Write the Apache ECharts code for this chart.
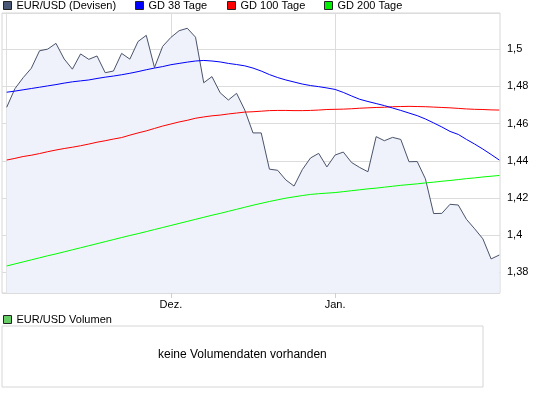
<!DOCTYPE html>
<html>
<head>
<meta charset="utf-8">
<script src="https://cdn.jsdelivr.net/npm/echarts@6/dist/echarts.min.js"></script>
<style>
html,body{margin:0;padding:0;background:#fff;}
#c{width:545px;height:395px;}
</style>
</head>
<body>
<div id="c"></div>
<script>
// EUR/USD daily quotes (approx. Nov 2009 - Jan 2010), evenly spaced samples
const price = [
  1.4688, 1.4788, 1.4847, 1.4898, 1.4992, 1.5001, 1.5032, 1.4948, 1.4893, 1.4975,
  1.4946, 1.4964, 1.4874, 1.4883, 1.4978, 1.4947, 1.5042, 1.5075, 1.4902, 1.5016,
  1.5064, 1.5100, 1.5113, 1.5065, 1.4820, 1.4853, 1.4766, 1.4727, 1.4763, 1.4673,
  1.4550, 1.4550, 1.4355, 1.4349, 1.4297, 1.4264, 1.4352, 1.4415, 1.4440, 1.4367,
  1.4431, 1.4447, 1.4391, 1.4364, 1.4341, 1.4530, 1.4508, 1.4526, 1.4515, 1.4395,
  1.4396, 1.4303, 1.4116, 1.4117, 1.4166, 1.4162, 1.4085, 1.4034, 1.3980, 1.3872,
  1.3893
];
const gd38 = [
  1.4769, 1.4775, 1.4782, 1.4789, 1.4796, 1.4803, 1.4810, 1.4818, 1.4825, 1.4830,
  1.4835, 1.4843, 1.4850, 1.4856, 1.4863, 1.4871, 1.4880, 1.4890, 1.4899, 1.4907,
  1.4917, 1.4924, 1.4931, 1.4937, 1.4940, 1.4937, 1.4932, 1.4924, 1.4918, 1.4911,
  1.4899, 1.4883, 1.4864, 1.4848, 1.4835, 1.4824, 1.4813, 1.4805, 1.4799, 1.4792,
  1.4784, 1.4768, 1.4749, 1.4731, 1.4719, 1.4708, 1.4697, 1.4684, 1.4671, 1.4657,
  1.4643, 1.4625, 1.4604, 1.4582, 1.4558, 1.4542, 1.4515, 1.4490, 1.4463, 1.4434,
  1.4404
];
const gd100 = [
  1.4404, 1.4413, 1.4423, 1.4430, 1.4439, 1.4449, 1.4458, 1.4466, 1.4473, 1.4481,
  1.4490, 1.4500, 1.4508, 1.4517, 1.4525, 1.4538, 1.4550, 1.4561, 1.4574, 1.4587,
  1.4598, 1.4609, 1.4618, 1.4629, 1.4636, 1.4642, 1.4646, 1.4652, 1.4657, 1.4662,
  1.4664, 1.4667, 1.4670, 1.4671, 1.4671, 1.4670, 1.4670, 1.4671, 1.4673, 1.4676,
  1.4677, 1.4678, 1.4680, 1.4683, 1.4685, 1.4687, 1.4688, 1.4691, 1.4692, 1.4693,
  1.4692, 1.4691, 1.4689, 1.4687, 1.4685, 1.4682, 1.4679, 1.4677, 1.4676, 1.4674,
  1.4673
];
const gd200 = [
  1.3834, 1.3845, 1.3856, 1.3867, 1.3878, 1.3889, 1.3899, 1.3910, 1.3921, 1.3932,
  1.3943, 1.3954, 1.3965, 1.3976, 1.3987, 1.3998, 1.4008, 1.4019, 1.4030, 1.4041,
  1.4052, 1.4063, 1.4074, 1.4085, 1.4096, 1.4107, 1.4117, 1.4128, 1.4139, 1.4150,
  1.4161, 1.4171, 1.4181, 1.4190, 1.4199, 1.4206, 1.4213, 1.4219, 1.4223, 1.4226,
  1.4229, 1.4234, 1.4239, 1.4244, 1.4249, 1.4253, 1.4258, 1.4263, 1.4268, 1.4272,
  1.4276, 1.4281, 1.4285, 1.4290, 1.4294, 1.4299, 1.4304, 1.4308, 1.4313, 1.4317,
  1.4321
];
// month ticks (sample index where the month starts) and their labels
const monthTicks = [20, 40];
const monthLabels = ['Dez.', 'Jan.'];
const seriesNames = ['EUR/USD (Devisen)', 'GD 38 Tage', 'GD 100 Tage', 'GD 200 Tage'];
const volumeName = 'EUR/USD Volumen';
const noVolumeText = 'keine Volumendaten vorhanden';

const FONT = '"Liberation Sans", Arial, sans-serif';
const toPairs = arr => arr.map((v, i) => [i, v]);
const fmtY = v => Number(v.toFixed(2)).toString().replace('.', ',');

const legendPos = [3, 135, 227, 324];
const legendColors = ['#4a5878', '#0000ff', '#ff0000', '#00ee00'];

const legends = seriesNames.map((n, k) => ({
  data: [n],
  left: legendPos[k],
  top: 0,
  padding: 0,
  itemWidth: 8,
  itemHeight: 8,
  itemGap: 0,
  icon: 'rect',
  selectedMode: false,
  itemStyle: { borderColor: '#222', borderWidth: 1 },
  textStyle: { fontFamily: FONT, fontSize: 11, color: '#000', padding: [1, 0, 0, 0] }
}));
legends.push({
  data: [volumeName],
  left: 3,
  top: 314,
  padding: 0,
  itemWidth: 8,
  itemHeight: 8,
  icon: 'rect',
  selectedMode: false,
  itemStyle: { borderColor: '#222', borderWidth: 1 },
  textStyle: { fontFamily: FONT, fontSize: 11, color: '#000', padding: [1, 0, 0, 0] }
});

const chart = echarts.init(document.getElementById('c'), null, { renderer: 'canvas' });
chart.setOption({
  animation: false,
  backgroundColor: '#fff',
  legend: legends,
  grid: [
    { left: 2, top: 13, width: 498, height: 280, show: true, borderColor: '#d6d6d6', borderWidth: 1, backgroundColor: '#fff' },
    { left: 2, top: 326, width: 481, height: 61, show: true, borderColor: '#d6d6d6', borderWidth: 1, backgroundColor: '#fff' }
  ],
  xAxis: [
    {
      type: 'value', gridIndex: 0, min: -0.572, max: 60.085,
      axisLine: { show: false },
      axisTick: { show: true, customValues: monthTicks, length: 5, lineStyle: { color: '#cfcfcf' } },
      axisLabel: { show: true, customValues: monthTicks, formatter: v => monthLabels[monthTicks.indexOf(v)] || '',
        fontFamily: FONT, fontSize: 11, color: '#000', margin: 6 },
      splitLine: { show: true, lineStyle: { color: '#dcdcdc', width: 1 } }
    },
    { type: 'value', gridIndex: 1, min: 0, max: 1, show: false, splitLine: { show: false } }
  ],
  yAxis: [
    {
      type: 'value', gridIndex: 0, position: 'right', offset: 3,
      min: 1.36886, max: 1.51953, minInterval: 0.02, maxInterval: 0.02,
      axisLine: { show: true, lineStyle: { color: '#dedede' } },
      axisTick: { show: false },
      axisLabel: { formatter: fmtY, showMinLabel: false, showMaxLabel: false,
        fontFamily: FONT, fontSize: 11, color: '#000', margin: 4 },
      splitLine: { show: true, lineStyle: { color: '#dcdcdc', width: 1 } }
    },
    { type: 'value', gridIndex: 1, min: 0, max: 1, show: false, splitLine: { show: false } }
  ],
  graphic: [
    { type: 'text', left: 243 - 85, top: 349, style: { text: noVolumeText, font: '12px ' + FONT, fill: '#000' } }
  ],
  series: [
    {
      name: seriesNames[0], type: 'line', data: toPairs(price), showSymbol: false, symbol: 'none',
      lineStyle: { color: '#4a5369', width: 1 }, itemStyle: { color: legendColors[0] },
      areaStyle: { color: '#eff2fa', opacity: 1, origin: 'start' }, z: 2
    },
    {
      name: seriesNames[3], type: 'line', data: toPairs(gd200), symbol: 'none',
      lineStyle: { color: '#00ff00', width: 1 }, itemStyle: { color: legendColors[3] }, z: 3
    },
    {
      name: seriesNames[2], type: 'line', data: toPairs(gd100), symbol: 'none',
      lineStyle: { color: '#ff0000', width: 1 }, itemStyle: { color: legendColors[2] }, z: 3
    },
    {
      name: seriesNames[1], type: 'line', data: toPairs(gd38), symbol: 'none',
      lineStyle: { color: '#0000ff', width: 1 }, itemStyle: { color: legendColors[1] }, z: 3
    },
    {
      name: volumeName, type: 'line', xAxisIndex: 1, yAxisIndex: 1, data: [], symbol: 'none',
      itemStyle: { color: '#66cc66' }
    }
  ]
});
</script>
</body>
</html>
